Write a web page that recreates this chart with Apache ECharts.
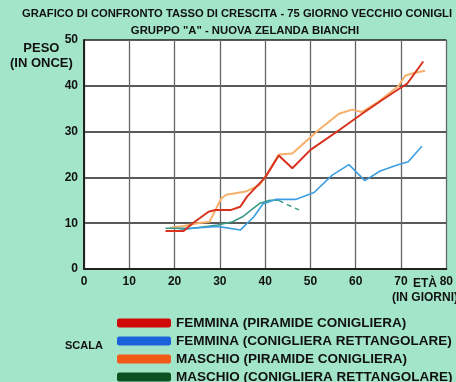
<!DOCTYPE html>
<html><head><meta charset="utf-8">
<script src="https://cdn.jsdelivr.net/npm/echarts@6/dist/echarts.min.js"></script>
<style>html,body{margin:0;padding:0;background:#a2e5c8;}#c{width:456px;height:382px;}</style>
</head><body><div id="c"></div>
<script>
const FONT = "'Liberation Sans',Arial,sans-serif";
const xTicks = [0,10,20,30,40,50,60,70,80];
const yTicks = [0,10,20,30,40,50];
const seriesNames = [
  'FEMMINA (PIRAMIDE CONIGLIERA)',
  'FEMMINA (CONIGLIERA RETTANGOLARE)',
  'MASCHIO (PIRAMIDE CONIGLIERA)',
  'MASCHIO (CONIGLIERA RETTANGOLARE)'
];
const femminaPiramide = [[18,8.3],[22,8.3],[24,10],[27.5,12.5],[29,12.9],[32.5,12.9],[34.5,13.6],[36,15.8],[40,20],[43,24.8],[46,22],[50,26],[56.3,30.3],[61.4,33.9],[66,37],[69.5,39.3],[71.3,40.4],[74.9,45.3]];
const femminaRett = [[19.5,8.2],[24,8.9],[29.5,9.3],[34.5,8.5],[37.5,11.4],[39.5,14.2],[42.3,15.2],[46.7,15.2],[50.8,16.7],[54.8,20.5],[58.5,22.8],[62,19.3],[65.4,21.4],[69.5,22.8],[71.6,23.4],[74.6,26.8]];
const maschioPiramide = [[19,9],[22,9.4],[25,10],[27.7,10.3],[30.3,15.4],[31.4,16.2],[35.7,16.9],[38.7,18.3],[40,20],[43,25],[46,25.2],[49.7,28.5],[52,30.5],[56.3,33.9],[59.2,34.8],[61.4,34.3],[65,36.5],[69.5,40],[70.9,42.2],[72.4,42.7],[75.3,43.3]];
const maschioRett = [[18,8.9],[24,8.9],[29.5,9.6],[32.8,10.3],[35,11.4],[38.7,14.3],[41,15],[43,15]];
const maschioRettDashed = [[43,15],[45,14],[47.5,12.9]];

const lineColors = ['#d8321e','#3c9ee0','#f7b06a','#3a9a88'];
const legendColors = ['#d00a0a','#1a62dc','#f25a18','#0a5222'];

const chart = echarts.init(document.getElementById('c'));
const mk = (name, data, color, width, type) => ({
  name, type:'line', data, showSymbol:false, symbol:'none', smooth:false,
  lineStyle:{color, width, type: type||'solid'}, itemStyle:{color}, z:3
});
chart.setOption({
  backgroundColor:'#a2e5c8',
  animation:false,
  textStyle:{fontFamily:FONT},
  title:[
    {text:'GRAFICO DI CONFRONTO TASSO DI CRESCITA - 75 GIORNO VECCHIO CONIGLI', left:232, textAlign:'center', top:3,
     textStyle:{fontFamily:FONT, fontSize:11.2, fontWeight:'bold', color:'#111'}},
    {text:'GRUPPO "A" - NUOVA ZELANDA BIANCHI', left:240, textAlign:'center', top:20,
     textStyle:{fontFamily:FONT, fontSize:11.3, fontWeight:'bold', color:'#111'}}
  ],
  grid:{left:84, right:8, top:40, bottom:113, show:true, backgroundColor:'#ffffff', borderWidth:0},
  xAxis:{type:'value', min:0, max:80, interval:10,
    axisLine:{show:true, lineStyle:{color:'#222', width:2}},
    axisTick:{show:false},
    axisLabel:{color:'#111', fontWeight:'bold', fontSize:12, fontFamily:FONT, margin:7,
      formatter:v=>xTicks.includes(v)?String(v):''},
    splitLine:{show:true, lineStyle:{color:'#666', width:1.3}}},
  yAxis:{type:'value', min:0, max:50, interval:10,
    axisLine:{show:true, lineStyle:{color:'#222', width:2}},
    axisTick:{show:false},
    axisLabel:{color:'#111', fontWeight:'bold', fontSize:12, fontFamily:FONT, margin:6,
      formatter:v=>yTicks.includes(v)?String(v):''},
    splitLine:{show:true, lineStyle:{color:'#222', width:1.5}}},
  legend:{orient:'vertical', left:112, top:311, height:72, itemWidth:54, itemHeight:9, itemGap:4, icon:'roundRect',
    textStyle:{fontFamily:FONT, fontSize:13.5, fontWeight:'bold', color:'#111', lineHeight:14},
    data: seriesNames.map((n,i)=>({name:n, itemStyle:{color:legendColors[i]}}))},
  graphic:[
    {type:'text', left:65, top:340, style:{text:'SCALA', font:'bold 11px '+FONT, fill:'#111'}},
    {type:'text', left:10, top:41, style:{text:'PESO\n(IN ONCE)', font:'bold 13px '+FONT, fill:'#111', textAlign:'center', lineHeight:15}},
    {type:'text', left:392, top:277, style:{text:'ETÀ\n(IN GIORNI)', font:'bold 12px '+FONT, fill:'#111', textAlign:'center', lineHeight:14}}
  ],
  series:[
    mk(seriesNames[2], maschioPiramide, lineColors[2], 2),
    mk(seriesNames[3], maschioRett, lineColors[3], 1.6),
    {name:'dashed', type:'line', data:maschioRettDashed, showSymbol:false, symbol:'none',
      lineStyle:{color:lineColors[3], width:1.5, type:[5,4]}, z:3},
    mk(seriesNames[1], femminaRett, lineColors[1], 1.6),
    mk(seriesNames[0], femminaPiramide, lineColors[0], 2)
  ]
});
</script></body></html>
